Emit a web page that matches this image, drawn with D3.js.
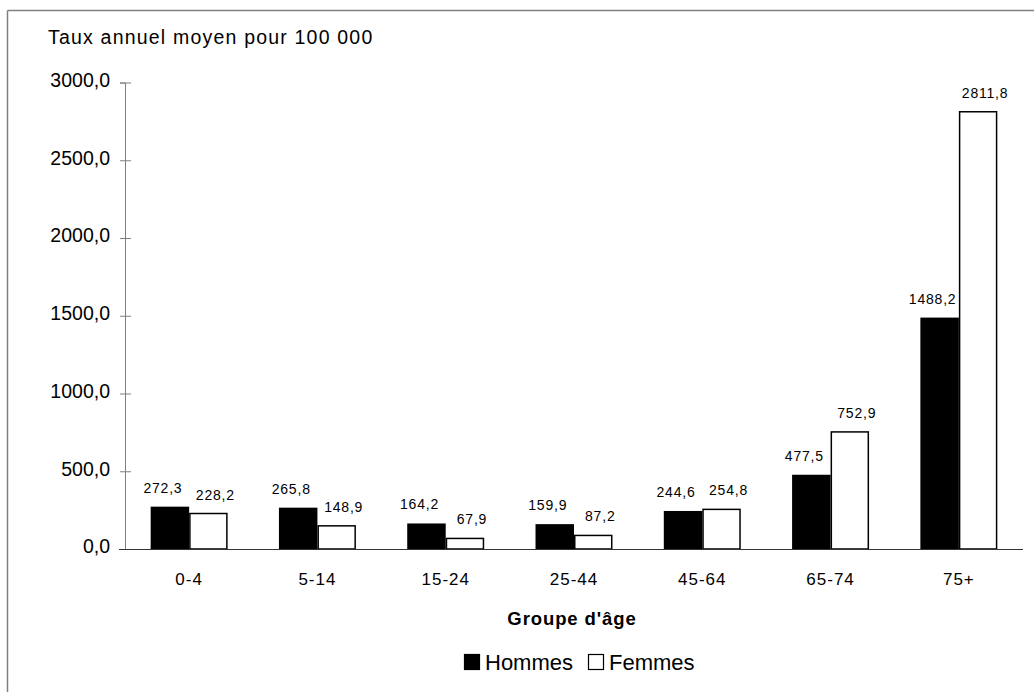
<!DOCTYPE html>
<html><head><meta charset="utf-8">
<script src="https://cdn.jsdelivr.net/npm/d3@7"></script>
<style>body{margin:0;background:#fff}svg{display:block;font-family:Arial,"Liberation Sans",sans-serif}</style>
</head><body><svg id="c" width="1034" height="692"></svg>
<script>
const categories = ["0-4","5-14","15-24","25-44","45-64","65-74","75+"];
const hommes = [272.3,265.8,164.2,159.9,244.6,477.5,1488.2];
const femmes = [228.2,148.9,67.9,87.2,254.8,752.9,2811.8];
const seriesNames = ["Hommes","Femmes"];
const yTicks = [0,500,1000,1500,2000,2500,3000];
const fmt = v => d3.format(".1f")(v).replace(".", ",");

const svg = d3.select("#c");
// frame (top and left lines)
svg.append("line").attr("x1",7.5).attr("x2",1034).attr("y1",10.5).attr("y2",10.5).attr("stroke","#808080").attr("stroke-width",1.5);
svg.append("line").attr("x1",7.5).attr("x2",7.5).attr("y1",10.5).attr("y2",692).attr("stroke","#808080").attr("stroke-width",1.5);

const x0 = 125, x1 = 1023, yTop = 82.5, yBot = 549;
const x = d3.scaleBand().domain(categories).range([x0,x1]).paddingInner(0.4).paddingOuter(0.2);
const xs = d3.scaleBand().domain(seriesNames).range([0,x.bandwidth()]);
const y = d3.scaleLinear().domain([0,3000]).range([yBot,yTop]);

// y axis
const ya = svg.append("g").attr("transform",`translate(${x0},0)`)
  .call(d3.axisLeft(y).tickValues(yTicks).tickFormat(fmt).tickSize(5).tickPadding(10));
ya.select(".domain").attr("stroke","#808080");
ya.selectAll(".tick line").attr("stroke","#808080").attr("x2",-5).attr("x1",6);
ya.selectAll(".tick text").attr("font-size",19.5).attr("fill","#000").attr("font-family","Arial, Liberation Sans, sans-serif").attr("x",-15).attr("dy","0.2em");

svg.append("text").attr("x",48).attr("y",43.5).attr("font-size",19.5).attr("letter-spacing",1.2).text("Taux annuel moyen pour 100 000");

const data = categories.map((c,i)=>({c, vals:[{s:"Hommes",v:hommes[i]},{s:"Femmes",v:femmes[i]}]}));
const g = svg.append("g");
const grp = g.selectAll("g").data(data).join("g").attr("transform",d=>`translate(${x(d.c)},0)`);
grp.selectAll("rect").data(d=>d.vals).join("rect")
  .attr("x",d=>xs(d.s)+(d.s==="Femmes"?0.75:0))
  .attr("width",d=>xs.bandwidth()-(d.s==="Femmes"?1.5:0))
  .attr("y",d=>y(d.v))
  .attr("height",d=>yBot-y(d.v))
  .attr("fill",d=>d.s==="Hommes"?"#000":"#fff")
  .attr("stroke","#000").attr("stroke-width",d=>d.s==="Femmes"?1.5:0);

grp.selectAll("text").data(d=>d.vals).join("text")
  .attr("x",d=>xs(d.s)+xs.bandwidth()/2+(d.s==="Hommes"?-7:7))
  .attr("y",d=>y(d.v)-14)
  .attr("text-anchor","middle").attr("font-size",14).attr("letter-spacing",0.8).text(d=>fmt(d.v));

// x axis
svg.append("line").attr("x1",119).attr("x2",x1).attr("y1",yBot+0.5).attr("y2",yBot+0.5).attr("stroke","#333").attr("stroke-width",1.2);
svg.append("g").selectAll("text").data(categories).join("text")
  .attr("x",d=>x(d)+x.bandwidth()/2).attr("y",585).attr("text-anchor","middle").attr("font-size",17).attr("letter-spacing",1).text(d=>d);

svg.append("text").attr("x",572).attr("y",625).attr("text-anchor","middle").attr("font-size",18.5).attr("letter-spacing",0.9).attr("font-weight","bold").text("Groupe d'âge");

// legend
const lg = svg.append("g");
const lx = [464, 588];
seriesNames.forEach((s,i)=>{
  lg.append("rect").attr("x",lx[i]+0.5).attr("y",654.5).attr("width",15).attr("height",15)
    .attr("fill",s==="Hommes"?"#000":"#fff").attr("stroke","#000").attr("stroke-width",1.2);
  lg.append("text").attr("x",lx[i]+21).attr("y",669.5).attr("font-size",22).text(s);
});
</script></body></html>
